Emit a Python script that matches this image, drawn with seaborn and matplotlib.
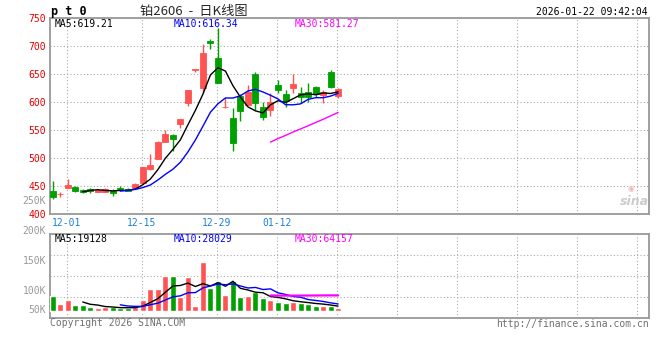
import numpy as np
import pandas as pd
import matplotlib
matplotlib.use('Agg')
import matplotlib.pyplot as plt
import seaborn as sns

# ---------------- data ----------------
dates = ['11-27', '11-28',
         '12-01', '12-02', '12-03', '12-04', '12-05',
         '12-08', '12-09', '12-10', '12-11', '12-12',
         '12-15', '12-16', '12-17', '12-18', '12-19',
         '12-22', '12-23', '12-24', '12-25', '12-26',
         '12-29', '12-30', '12-31',
         '01-05', '01-06', '01-07', '01-08', '01-09',
         '01-12', '01-13', '01-14', '01-15', '01-16',
         '01-19', '01-20', '01-21', '01-22']
opens = [441, 436, 447.5, 448, 443, 445, 439.3, 440.4, 442.2, 447.5,
         445.2, 446.4, 456.4, 480.3, 499.2, 529.5, 541.4, 560.5, 599, 658,
         624.6, 709.4, 678.6, 591.5, 571.2, 611.4, 594.9, 649.6, 590.8, 585.5,
         630.5, 614.5, 624.6, 615.7, 618.6, 626.4, 612.7, 654.2, 611.4]
closes = [430, 436.5, 452, 442, 440.5, 441.6, 443.4, 445.2, 438, 444.7,
          442.2, 454.6, 484.4, 488, 529, 543.2, 533.7, 569.9, 621.6, 658.5,
          687, 704.8, 634.6, 592, 527.7, 584.7, 618.6, 599, 574, 599.7,
          621.6, 602.5, 632.3, 608.6, 608.6, 613.9, 618.6, 627.5, 622.8]
highs = [459, 439.3, 463, 451, 445, 446.4, 444, 446.4, 444.7, 450.5,
         446.4, 455.3, 485, 507.6, 530, 550.3, 543.2, 570.5, 622.5, 659,
         703.6, 712, 732, 606.8, 589, 614.5, 630.5, 654.2, 600.7, 615.7,
         639.4, 621.6, 650.1, 627.5, 634.6, 628.7, 621.6, 657.2, 624.6]
lows = [427, 430.4, 447, 440.4, 438.5, 438, 439, 439.3, 432.7, 442.9,
        441.6, 445.2, 455, 479, 498, 529, 513.4, 554.4, 593, 654.2,
        615.7, 694.1, 633.5, 589, 513.4, 566.9, 594, 586, 568, 575.3,
        615.7, 591.8, 615.7, 597.9, 600.7, 609.7, 597.9, 624.6, 606.8]
volumes = [61700, 28100, 44900, 23900, 23900, 13900, 11300, 13900, 13900, 11300,
           11300, 13900, 44900, 91100, 91100, 145700, 145700, 55900, 141500, 19700,
           205800, 96600, 124700, 65900, 124700, 57500, 61700, 78500, 54600, 46000,
           38500, 32000, 38500, 33000, 29000, 19500, 18500, 19500, 9200]

date_ticks = ['12-01', '12-15', '12-29', '01-12']
price_ticks = [400, 450, 500, 550, 600, 650, 700, 750]
vol_tick_labels = ['250K', '200K', '150K', '100K', '50K']
ma_windows = [5, 10, 30]
ma_price_text = ['MA5:619.21', 'MA10:616.34', 'MA30:581.27']
ma_vol_text = ['MA5:19128', 'MA10:28029', 'MA30:64157']

# ---------------- style ----------------
sns.set_style('white')
plt.rcParams['font.family'] = ['DejaVu Sans Mono', 'Noto Sans CJK SC']

RED = '#ff5252'
GREEN = '#00a000'
MA_COLORS = ['black', '#0000ff', '#ff00ff']
GRID = '#aaaaaa'
BORDER = '#999999'

W, H = 660, 360
fig = plt.figure(figsize=(6.6, 3.6), dpi=100)
fig.patch.set_facecolor('white')


def fx(px):
    return px / W


def fy(py):
    return 1 - py / H


L, R = 50, 649
P_TOP, P_BOT = 18, 214.3
V_TOP, V_BOT = 234.3, 318.3
ax = fig.add_axes([fx(L), fy(P_BOT), fx(R - L), (P_BOT - P_TOP) / H])
axv = fig.add_axes([fx(L), fy(V_BOT), fx(R - L), (V_BOT - V_TOP) / H])

df = pd.DataFrame(dict(date=dates, open=opens, high=highs, low=lows,
                       close=closes, volume=volumes))
df['i'] = np.arange(len(df))
up = df['close'] >= df['open']
colors = np.where(up, RED, GREEN)

# candles
ax.vlines(df['i'], df['low'], df['high'], colors=colors, lw=1.0, zorder=3)
ax.bar(df['i'], (df['close'] - df['open']).abs(),
       bottom=np.minimum(df['open'], df['close']), width=0.8,
       color=colors, edgecolor=colors, linewidth=0.6, zorder=4)

for w, c in zip(ma_windows, MA_COLORS):
    df[f'ma{w}'] = df['close'].rolling(w).mean()
    sns.lineplot(data=df, x='i', y=f'ma{w}', ax=ax, color=c, lw=1.0, zorder=5)
    df[f'vma{w}'] = df['volume'].rolling(w).mean()
    sns.lineplot(data=df, x='i', y=f'vma{w}', ax=axv, color=c,
                 lw=1.6 if w == 30 else 1.0, zorder=5)

# volume
axv.bar(df['i'], df['volume'], width=0.8, color=colors, zorder=3)

# ---------------- axes ----------------
XMIN, XMAX = -0.36, 79.4
tick_idx = [dates.index(d) - 0.15 for d in date_ticks]
extra_idx = list(np.arange(dates.index('01-12') + 8, 80, 8) - 0.15)
xt = tick_idx + extra_idx
xl = date_ticks + [''] * len(extra_idx)

for a in (ax, axv):
    a.set_xlim(XMIN, XMAX)
    a.set_xlabel('')
    a.set_ylabel('')
    a.set_xticks(xt)
    a.grid(True, axis='both', ls=(0, (1, 2)), color=GRID, lw=0.8, zorder=0)
    for s in a.spines.values():
        s.set_color(BORDER)
        s.set_linewidth(1.3)
    a.tick_params(length=0)

ax.set_ylim(400, 750)
ax.set_yticks(price_ticks)
ax.set_yticklabels([str(v) for v in price_ticks], color='#e00000', fontsize=7)
ax.tick_params(axis='y', pad=3)
ax.set_xticklabels(xl, color='#1a80dc', fontsize=7)
ax.tick_params(axis='x', pad=2.5)

axv.set_ylim(-32000, 321000)
axv.set_yticks(np.linspace(-32000, 321000, 5)[1:-1])
axv.set_yticklabels([])
axv.set_xticklabels([])

# ---------------- texts ----------------
fig.text(fx(51), fy(11.5), 'p t 0', fontsize=8.5, fontweight='bold',
         ha='left', va='center', color='black')
fig.text(fx(140), fy(11.5), '铂2606  -  日K线图', fontsize=9.5,
         family=['Noto Sans CJK SC', 'DejaVu Sans'], ha='left', va='center')
fig.text(fx(648), fy(12), '2026-01-22 09:42:04', fontsize=7,
         ha='right', va='center', color='black')

for xpos, t, c in zip([55, 174, 295], ma_price_text, MA_COLORS):
    fig.text(fx(xpos), fy(24), t, fontsize=7, ha='left', va='center', color=c)
for xpos, t, c in zip([55, 174, 295], ma_vol_text, MA_COLORS):
    fig.text(fx(xpos), fy(238.5), t, fontsize=7, ha='left', va='center', color=c)

for ypos, t in zip([200.7, 231, 261, 290.7, 310], vol_tick_labels):
    fig.text(fx(46), fy(ypos), t, fontsize=7, ha='right', va='center',
             color='#999999')

fig.text(fx(50), fy(323.5), 'Copyright 2026 SINA.COM', fontsize=7,
         ha='left', va='center', color='#707070')
fig.text(fx(649), fy(324), 'http://finance.sina.com.cn', fontsize=7,
         ha='right', va='center', color='#707070')

# watermark
fig.text(fx(631), fy(188), '◉', fontsize=5.5, ha='center', va='center',
         color='#f2b4b4', family=['DejaVu Sans'])
fig.text(fx(620), fy(201.5), 'sina', fontsize=9, ha='left', va='center',
         color='#cccccc', style='italic', fontweight='bold',
         family=['DejaVu Sans'])

fig.savefig('out.png', dpi=100)
